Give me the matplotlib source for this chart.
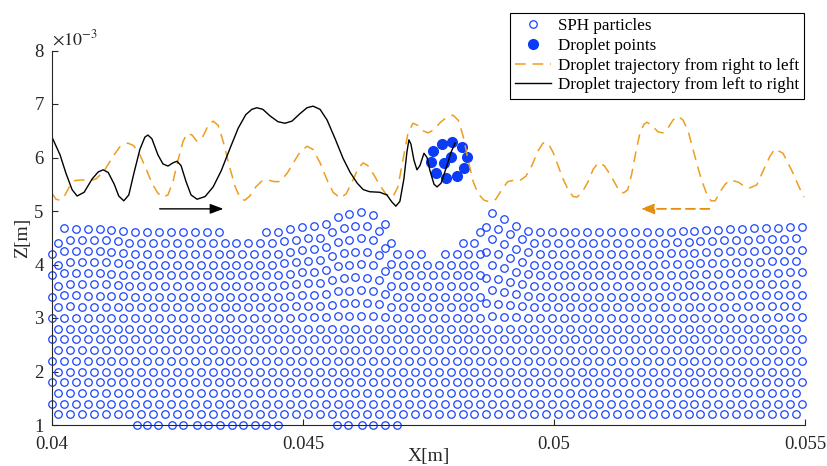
import numpy as np
import matplotlib
matplotlib.use('Agg')
import matplotlib.pyplot as plt
from matplotlib.patches import FancyArrowPatch

plt.rcParams['font.family'] = ['Liberation Serif', 'DejaVu Serif']
plt.rcParams['mathtext.fontset'] = 'stix'

# SPH particle lattice (x in m, z in mm)
dx_p = 0.237e-3
row_z = [1.2, 1.4, 1.6, 1.8, 2.0, 2.2, 2.4, 2.6, 2.8, 3.0,
         3.2, 3.4, 3.6, 3.8, 4.0, 4.2, 4.4, 4.6]
row_x0 = [0.04012, 0.04000]
z_flat, z_top = 2.8, 4.6

# free surface of the fluid
surf_x = [0.04000, 0.04012, 0.04022, 0.04054, 0.04106, 0.04163, 0.04247, 0.04311,
          0.04382, 0.04420, 0.04460, 0.04500, 0.04538, 0.04570, 0.04614, 0.04645,
          0.04669, 0.04697, 0.04729, 0.04769, 0.04807, 0.04847, 0.04857, 0.04867,
          0.04896, 0.04924, 0.04958, 0.04996, 0.05115, 0.05235, 0.05351, 0.05476, 0.05500]
surf_z = [4.35, 4.5, 4.68, 4.66, 4.66, 4.60, 4.57, 4.53,
          4.50, 4.50, 4.63, 4.70, 4.72, 4.90, 4.98, 4.92,
          4.70, 4.30, 4.20, 4.00, 4.35, 4.35, 4.70, 5.00,
          4.87, 4.72, 4.60, 4.55, 4.55, 4.61, 4.66, 4.70, 4.70]

# loose particles lying on the bed
bed_x = [0.04169, 0.04189, 0.04211, 0.04239, 0.04261, 0.04289, 0.04311, 0.04335,
         0.04359, 0.04380, 0.04404, 0.04426, 0.04450,
         0.04568, 0.04590, 0.04618, 0.04639, 0.04663, 0.04687]
bed_z = [1.0] * len(bed_x)

# droplet
drop_x = [0.04759, 0.04777, 0.04797, 0.04817, 0.04827, 0.04821,
          0.04807, 0.04785, 0.04765, 0.04755, 0.04781, 0.04795]
drop_z = [6.12, 6.25, 6.29, 6.20, 6.01, 5.80,
          5.65, 5.62, 5.71, 5.92, 5.90, 6.01]

# trajectory left -> right
lr_x = [0.04000, 0.04016, 0.04028, 0.04040, 0.04050, 0.04064, 0.04080, 0.04092, 0.04102, 0.04112,
        0.04124, 0.04133, 0.04143, 0.04153, 0.04163, 0.04175, 0.04185, 0.04191, 0.04199, 0.04211,
        0.04221, 0.04231, 0.04241, 0.04249, 0.04257, 0.04267, 0.04277, 0.04289, 0.04305, 0.04321,
        0.04337, 0.04355, 0.04371, 0.04386, 0.04398, 0.04408, 0.04420, 0.04434, 0.04450, 0.04464,
        0.04478, 0.04494, 0.04508, 0.04520, 0.04534, 0.04548, 0.04564, 0.04580, 0.04594, 0.04608,
        0.04620, 0.04633, 0.04653, 0.04667, 0.04677, 0.04685, 0.04693, 0.04701, 0.04707, 0.04711,
        0.04715, 0.04721, 0.04727, 0.04733, 0.04741, 0.04747, 0.04753, 0.04761, 0.04767, 0.04775,
        0.04785, 0.04795, 0.04803]
lr_z = [6.38, 6.05, 5.70, 5.40, 5.28, 5.35, 5.60, 5.73, 5.77, 5.72,
        5.50, 5.28, 5.19, 5.30, 5.70, 6.15, 6.38, 6.42, 6.35, 6.05,
        5.88, 5.84, 5.90, 5.93, 5.85, 5.55, 5.30, 5.22, 5.27, 5.45,
        5.75, 6.18, 6.55, 6.80, 6.90, 6.93, 6.90, 6.78, 6.67, 6.64,
        6.68, 6.82, 6.93, 6.96, 6.90, 6.70, 6.35, 5.98, 5.72, 5.52,
        5.40, 5.36, 5.35, 5.30, 5.17, 5.09, 5.18, 5.60, 6.10, 6.33,
        6.25, 5.95, 5.77, 5.85, 6.08, 6.00, 5.75, 5.50, 5.45, 5.52,
        5.80, 6.10, 6.27]

# trajectory right -> left
rl_x = [0.04000, 0.04008, 0.04016, 0.04026, 0.04036, 0.04046, 0.04060, 0.04076, 0.04088, 0.04104,
        0.04120, 0.04135, 0.04151, 0.04163, 0.04175, 0.04187, 0.04199, 0.04211, 0.04221, 0.04231,
        0.04241, 0.04251, 0.04261, 0.04269, 0.04279, 0.04289, 0.04301, 0.04311, 0.04321, 0.04331,
        0.04341, 0.04353, 0.04365, 0.04375, 0.04384, 0.04394, 0.04406, 0.04418, 0.04430, 0.04442,
        0.04454, 0.04468, 0.04482, 0.04494, 0.04508, 0.04520, 0.04534, 0.04548, 0.04560, 0.04574,
        0.04586, 0.04598, 0.04610, 0.04620, 0.04629, 0.04641, 0.04653, 0.04665, 0.04679, 0.04689,
        0.04699, 0.04709, 0.04719, 0.04729, 0.04739, 0.04749, 0.04761, 0.04773, 0.04787, 0.04799,
        0.04809, 0.04819, 0.04829, 0.04839, 0.04849, 0.04861, 0.04873, 0.04884, 0.04896, 0.04908,
        0.04922, 0.04932, 0.04944, 0.04956, 0.04968, 0.04978, 0.04988, 0.04998, 0.05008, 0.05018,
        0.05028, 0.05038, 0.05046, 0.05056, 0.05068, 0.05078, 0.05088, 0.05100, 0.05112, 0.05124,
        0.05131, 0.05139, 0.05147, 0.05155, 0.05163, 0.05171, 0.05179, 0.05185, 0.05195, 0.05207,
        0.05217, 0.05227, 0.05237, 0.05247, 0.05257, 0.05267, 0.05277, 0.05287, 0.05295, 0.05305,
        0.05313, 0.05321, 0.05331, 0.05341, 0.05351, 0.05367, 0.05378, 0.05390, 0.05404, 0.05420,
        0.05430, 0.05440, 0.05456, 0.05466, 0.05476, 0.05488, 0.05498]
rl_z = [5.33, 5.22, 5.20, 5.30, 5.48, 5.57, 5.58, 5.57, 5.60, 5.75,
        6.00, 6.20, 6.27, 6.22, 6.05, 5.80, 5.52, 5.33, 5.26, 5.30,
        5.55, 5.95, 6.30, 6.45, 6.42, 6.30, 6.40, 6.60, 6.68, 6.60,
        6.30, 5.85, 5.45, 5.24, 5.20, 5.28, 5.45, 5.56, 5.58, 5.55,
        5.55, 5.70, 5.92, 6.10, 6.21, 6.15, 5.90, 5.58, 5.35, 5.24,
        5.32, 5.55, 5.80, 5.90, 5.85, 5.68, 5.48, 5.32, 5.26, 5.45,
        5.95, 6.45, 6.64, 6.60, 6.50, 6.46, 6.52, 6.65, 6.76, 6.79,
        6.70, 6.40, 5.95, 5.55, 5.32, 5.20, 5.17, 5.22, 5.40, 5.55,
        5.58, 5.57, 5.65, 5.85, 6.12, 6.27, 6.27, 6.10, 5.85, 5.60,
        5.40, 5.27, 5.26, 5.35, 5.55, 5.78, 5.90, 5.85, 5.68, 5.48,
        5.36, 5.34, 5.40, 5.70, 6.10, 6.45, 6.62, 6.66, 6.60, 6.48,
        6.46, 6.55, 6.70, 6.77, 6.70, 6.50, 6.15, 5.80, 5.55, 5.30,
        5.19, 5.19, 5.36, 5.50, 5.58, 5.54, 5.47, 5.43, 5.49, 5.82,
        6.02, 6.16, 6.08, 5.90, 5.71, 5.45, 5.26]

# direction arrows: (x start, x end, z)
arrow_lr = (0.04209, 0.04347, 5.04)
arrow_rl = (0.05315, 0.05167, 5.04)

blue = '#1a44ff'
orange = '#ee9d1f'
axcol = '#262626'

# particle positions: upper lattice rows lifted where the surface is high,
# cut off where it dips below the rows
part_x, part_z = [], []
for i, z0 in enumerate(row_z):
    xs = np.arange(row_x0[i % 2], 0.0550, dx_p)
    top = np.interp(xs, surf_x, surf_z)
    lift = np.clip(top - z_top, 0, None)
    w = max(z0 - z_flat, 0) / (z_top - z_flat)
    zs = z0 + lift * w
    keep = zs <= top + 0.08
    part_x.extend(xs[keep])
    part_z.extend(zs[keep])
part_x.extend(bed_x)
part_z.extend(bed_z)

fig = plt.figure(figsize=(8.27, 4.66), dpi=100)
ax = fig.add_axes([52 / 827, 41 / 466, 753 / 827, 374.5 / 466])

ax.plot(part_x, part_z, 'o', ls='none', ms=5.4, mfc='none', mec=blue, mew=0.9,
        clip_on=False, label='SPH particles')
ax.plot(drop_x, drop_z, 'o', ls='none', ms=7, mfc='#0a3cf5', mec='#0a3cf5',
        label='Droplet points')
ax.plot(rl_x, rl_z, color=orange, lw=1.1, dashes=(7, 4.5),
        label='Droplet trajectory from right to left')
ax.plot(lr_x, lr_z, color='black', lw=1.0,
        label='Droplet trajectory from left to right')

ax.add_patch(FancyArrowPatch((arrow_lr[0], arrow_lr[2]), (arrow_lr[1], arrow_lr[2]),
                             arrowstyle='-|>,head_length=8,head_width=3',
                             mutation_scale=1, color='black', lw=1.0))
ax.add_patch(FancyArrowPatch((arrow_rl[0], arrow_rl[2]), (arrow_rl[1], arrow_rl[2]),
                             arrowstyle='-|>,head_length=8,head_width=3',
                             mutation_scale=1, color='#e88d0c', lw=1.3,
                             linestyle=(0, (5, 3))))

ax.set_xlim(0.04, 0.055)
ax.set_ylim(1, 8)
ax.set_xticks([0.04, 0.045, 0.05, 0.055])
ax.set_xticklabels(['0.04', '0.045', '0.05', '0.055'])
ax.set_yticks(range(1, 9))
ax.tick_params(direction='in', length=4, width=0.8, colors=axcol, labelsize=13.5)
ax.tick_params(axis='x', pad=8)
ax.tick_params(axis='y', pad=6)
for s in ['top', 'right']:
    ax.spines[s].set_visible(False)
for s in ['left', 'bottom']:
    ax.spines[s].set_color(axcol)
    ax.spines[s].set_linewidth(0.8)

ax.set_xlabel('X[m]', fontsize=14, color=axcol, labelpad=-4)
ax.set_ylabel('Z[m]', fontsize=14, color=axcol, labelpad=2)
ax.text(0.0, 1.005, r'$\times10^{-3}$', transform=ax.transAxes, ha='left', va='bottom',
        fontsize=13, color=axcol)

leg = ax.legend(loc='upper right', bbox_to_anchor=(804 / 827, 1 - 13 / 466),
                bbox_transform=fig.transFigure, fontsize=12.3, frameon=True,
                fancybox=False, framealpha=1, edgecolor='black', borderaxespad=0,
                handlelength=2.1, handletextpad=0.4, labelspacing=0.22,
                borderpad=0.3)
leg.get_frame().set_linewidth(0.8)

fig.savefig('out.png', dpi=100)
